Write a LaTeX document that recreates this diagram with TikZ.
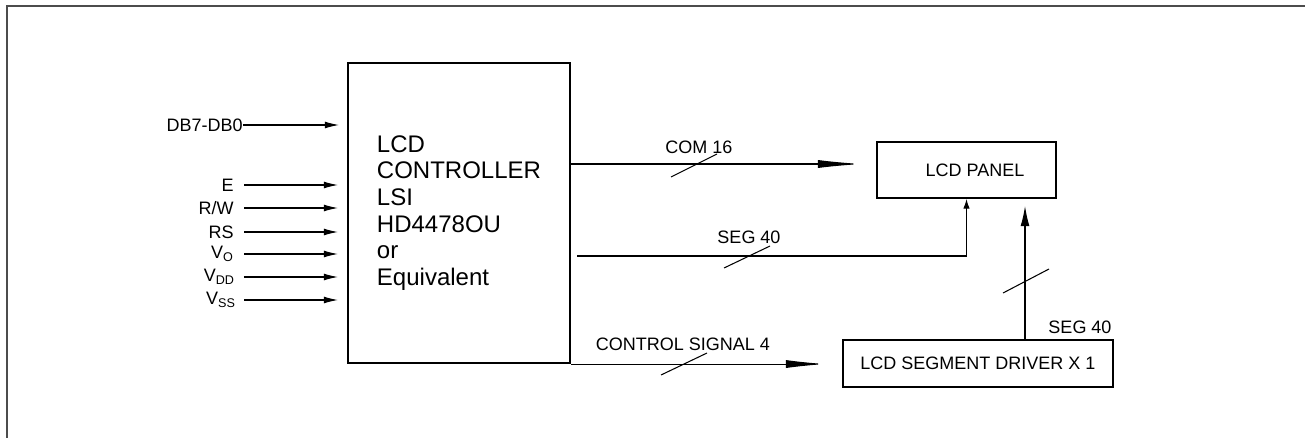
\documentclass[tikz,border=0pt]{standalone}
\usepackage{fontspec}
\setmainfont{Liberation Sans}
\usetikzlibrary{arrows.meta}

\begin{document}
\begin{tikzpicture}[x=0.025cm,y=-0.025cm,>={Latex[length=0.35cm,width=0.17cm]},
	lbl/.style={inner sep=0pt,font=\fontsize{12.8pt}{15pt}\selectfont},
	box/.style={draw,rectangle,line width=1.4pt,font=\fontsize{12.8pt}{15pt}\selectfont},
	wire/.style={line width=0.75pt}]
	\useasboundingbox (0,0) rectangle (1305,437);
	\draw[black!70, line width=1pt] (1306,6) -- (7,6) -- (7,438);
	% blocks
	\node[box, minimum width=5.55cm, minimum height=7.5cm, align=left, font=\fontsize{17.07pt}{18.97pt}\selectfont] (ctrl) at (459,213) {LCD\\CONTROLLER\\LSI\\HD4478OU\\or\\Equivalent};
	\node[box, minimum width=4.475cm, minimum height=1.4cm] (panel) at (966.5,170) {\hspace*{0.425cm}LCD PANEL};
	\node[box, minimum width=6.75cm, minimum height=1.175cm] (driver) at (978,363.5) {LCD SEGMENT DRIVER X 1};
	% inputs
	\node[lbl, anchor=east] (db) at (243,125) {DB7-DB0};
	\node[lbl, anchor=east] (e) at (234,185) {E};
	\node[lbl, anchor=east] (rw) at (234,208) {R/W};
	\node[lbl, anchor=east] (rs) at (234,232) {RS};
	\node[lbl, anchor=east] (vo) at (234,254) {V\textsubscript{O}};
	\node[lbl, anchor=east] (vdd) at (235,277) {V\textsubscript{DD}};
	\node[lbl, anchor=east] (vss) at (236,300) {V\textsubscript{SS}};
	\draw[wire, ->, shorten >=0.2cm] (db.east) -- (db.east -| ctrl.west);
	\draw[wire, ->, shorten <=0.25cm, shorten >=0.225cm] (e.east) -- (e.east -| ctrl.west);
	\draw[wire, ->, shorten <=0.25cm, shorten >=0.225cm] (rw.east) -- (rw.east -| ctrl.west);
	\draw[wire, ->, shorten <=0.25cm, shorten >=0.225cm] (rs.east) -- (rs.east -| ctrl.west);
	\draw[wire, ->, shorten <=0.25cm, shorten >=0.225cm] (vo.east) -- (vo.east -| ctrl.west);
	\draw[wire, ->, shorten <=0.22cm, shorten >=0.225cm] (vdd.east) -- (vdd.east -| ctrl.west);
	\draw[wire, ->, shorten <=0.2cm, shorten >=0.225cm] (vss.east) -- (vss.east -| ctrl.west);
	% outputs
	\coordinate (com) at ([yshift=0.15cm]panel.west);
	\draw[wire, -{Latex[length=1.1cm,width=0.2cm]}, shorten >=0.35cm] (ctrl.east |- com) -- (com);
	\coordinate (segturn) at (969,256);
	\draw[wire, -{Latex[length=0.24cm,width=0.16cm]}, shorten <=0.15cm] (ctrl.east |- segturn) -| (panel.south);
	\draw[wire, -{Latex[length=1cm,width=0.2cm]}, shorten >=0.4cm] (ctrl.south east) -- (ctrl.south east -| driver.west);
	\coordinate (drvout) at ([xshift=1.175cm]driver.north);
	\draw[wire, -{Latex[length=0.5cm,width=0.22cm]}, shorten >=0.175cm] (drvout) -- (drvout |- panel.south);
	% bus slashes
	\draw[wire] (671,177) -- (717,154);
	\draw[wire] (724,268) -- (770,246);
	\draw[wire] (661,375) -- (707,353);
	\draw[wire] (1003,293) -- (1049,269);
	\node[lbl] (com16) at (699,147) {COM 16};
	\node[lbl] (seg40) at (749,237) {SEG 40};
	\node[lbl] (ctrlsig) at (683,344) {CONTROL SIGNAL 4};
	\node[lbl] (seg40b) at (1080,327) {SEG 40};
\end{tikzpicture}
\end{document}
